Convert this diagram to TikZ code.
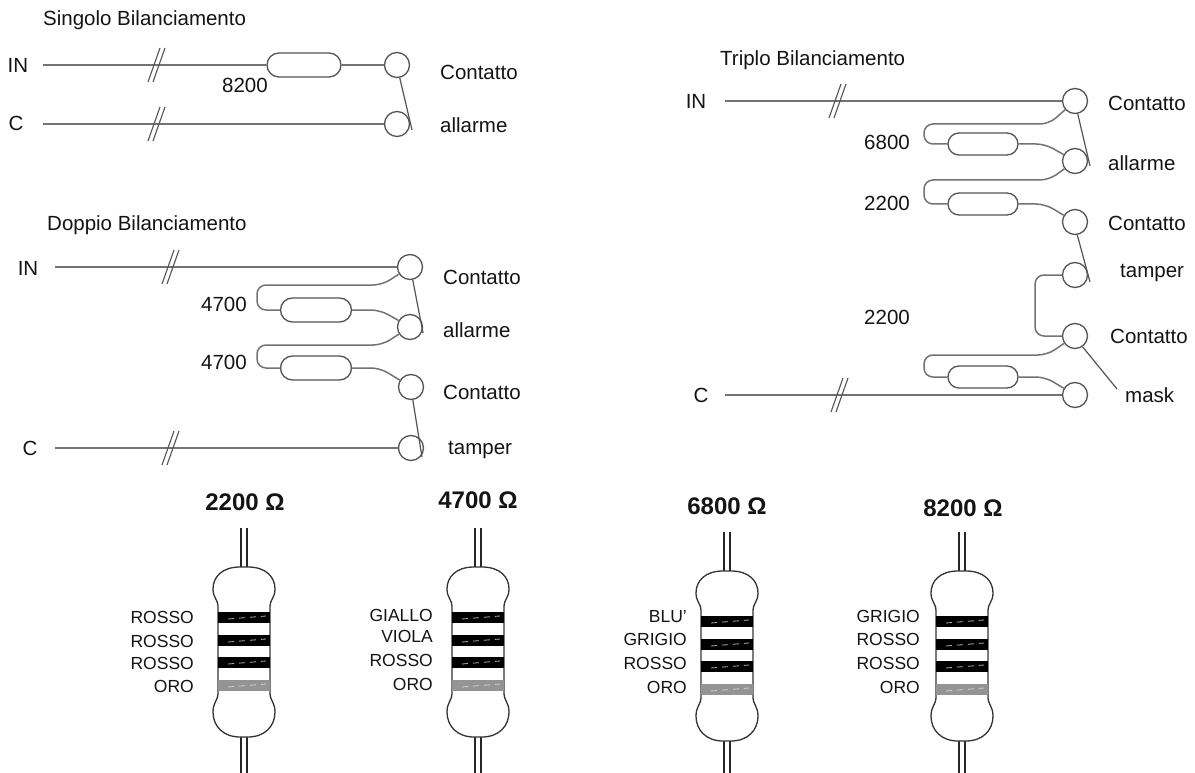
\documentclass[tikz,border=0pt]{standalone}
\usepackage{fontspec}
\setmainfont{Liberation Sans}
\usetikzlibrary{shapes.misc}
\definecolor{wirecol}{gray}{0.45}
\definecolor{rimcol}{gray}{0.33}
\definecolor{goldband}{gray}{0.58}
\definecolor{inkcol}{gray}{0.08}

\begin{document}
\begin{tikzpicture}[x=1pt,y=-1pt,
  wire/.style={draw=wirecol,line width=1.5pt,rounded corners=9pt},
  swline/.style={draw=rimcol,line width=1.2pt},
  term/.style={circle,draw=rimcol,line width=1.3pt,fill=white,minimum size=25pt,inner sep=0pt},
  resbody/.style={rounded rectangle,draw=rimcol,line width=1.3pt,fill=white,
                  minimum width=72pt,minimum height=24pt,inner sep=0pt},
  txt/.style={font=\fontsize{20.5}{24}\selectfont,text=inkcol,inner sep=0pt},
  lbl/.style={txt,anchor=west},
  title/.style={txt,anchor=west},
  ohm/.style={font=\bfseries\fontsize{24}{28}\selectfont,text=inkcol,inner sep=0pt},
  band/.style={font=\fontsize{17.5}{20}\selectfont,text=inkcol,inner sep=0pt,anchor=east},
  breakmark/.pic={\draw[draw=rimcol,line width=1.1pt] (-9,17) -- (3,-17) (-4,17) -- (8,-17);},
  outline/.style={draw=black!80,line width=1.3pt,fill=white},
  leadwire/.style={draw=black!85,line width=1.2pt}
]
\useasboundingbox (0,0) rectangle (1195,773);
\fill[white] (0,0) rectangle (1195,773);

% ---------- Singolo Bilanciamento ----------
\node[title] (stitle) at (43,20) {Singolo Bilanciamento};
\node[txt] (sin) at (18,65) {IN};
\node[txt] (sc) at (16,123) {C};
\coordinate (sinA) at (43,65);
\coordinate (scA) at (43,124);
\node[term] (s1) at (397,65) {};
\node[term] (s2) at (397,124) {};
\node[resbody,minimum width=74pt] (sr) at (304,65) {};
\draw[wire] (sinA) -- (sr.west);
\draw[wire] (sr.east) -- (s1);
\draw[wire] (scA) -- (s2);
\pic at (157,65) {breakmark};
\pic at (157,124) {breakmark};
\coordinate (sw1) at (412,130);
\draw[swline] (s1.-78) -- (sw1);
\node[txt] (s8200) at (245,85) {8200};
\node[lbl] (scont) at (440,72) {Contatto};
\node[lbl] (sall) at (440,125) {allarme};

% ---------- Doppio Bilanciamento ----------
\node[title] (dtitle) at (47,225) {Doppio Bilanciamento};
\node[txt] (din) at (28,268) {IN};
\node[txt] (dc) at (30,448) {C};
\coordinate (dinA) at (55,267);
\coordinate (dcA) at (55,448);
\node[term] (d1) at (410,267) {};
\node[term] (d2) at (410,327) {};
\node[term] (d3) at (411,387) {};
\node[term] (d4) at (411,448) {};
\node[resbody,minimum width=71pt] (dr1) at (316,310) {};
\node[resbody,minimum width=71pt] (dr2) at (316,368) {};
\draw[wire] (dinA) -- (d1);
\draw[wire] (dcA) -- (d4);
\pic at (171,267) {breakmark};
\pic at (171,448) {breakmark};
\draw[wire] (d1) -- (382,285) -- (257,285) -- (257,310) -- (dr1.west);
\draw[wire] (dr1.east) -- (380,310) -- (d2);
\draw[wire] (d2) -- (382,345) -- (257,345) -- (257,368) -- (dr2.west);
\draw[wire] (dr2.east) -- (380,368) -- (d3);
\coordinate (sw2) at (423,333);
\coordinate (sw3) at (422,457);
\draw[swline] (d1.-78) -- (sw2);
\draw[swline] (d3.-82) -- (sw3);
\node[txt] (d4700a) at (224,304) {4700};
\node[txt] (d4700b) at (224,362) {4700};
\node[lbl] (dcont1) at (443,277) {Contatto};
\node[lbl] (dall) at (443,330) {allarme};
\node[lbl] (dcont2) at (443,392) {Contatto};
\node[lbl] (dtamp) at (448,450) {tamper};

% ---------- Triplo Bilanciamento ----------
\node[title] (ttitle) at (720,60) {Triplo Bilanciamento};
\node[txt] (tin) at (696,101) {IN};
\node[txt] (tc) at (701,395) {C};
\coordinate (tinA) at (725,101);
\coordinate (tcA) at (725,395);
\node[term] (t1) at (1075,101) {};
\node[term] (t2) at (1075,161) {};
\node[term] (t3) at (1075,222) {};
\node[term] (t4) at (1075,275) {};
\node[term] (t5) at (1075,336) {};
\node[term] (t6) at (1075,395) {};
\node[resbody,minimum width=70pt,minimum height=22pt] (tr1) at (983,144) {};
\node[resbody,minimum width=70pt,minimum height=22pt] (tr2) at (983,204) {};
\node[resbody,minimum width=70pt,minimum height=22pt] (tr3) at (983,377) {};
\draw[wire] (tinA) -- (t1);
\draw[wire] (tcA) -- (t6);
\pic at (838,101) {breakmark};
\pic at (840,395) {breakmark};
\draw[wire] (t1) -- (1049,124) -- (924,124) -- (924,144) -- (tr1.west);
\draw[wire] (tr1.east) -- (1045,144) -- (t2);
\draw[wire] (t2) -- (1049,180) -- (924,180) -- (924,204) -- (tr2.west);
\draw[wire] (tr2.east) -- (1045,204) -- (t3);
\draw[wire] (t4) -- (1035,275) -- (1035,336) -- (t5);
\draw[wire] (t5) -- (1047,355) -- (924,355) -- (924,377) -- (tr3.west);
\draw[wire] (tr3.east) -- (1045,377) -- (t6);
\coordinate (sw4) at (1090,166);
\coordinate (sw5) at (1090,282);
\coordinate (sw6) at (1117,389);
\draw[swline] (t1.-78) -- (sw4);
\draw[swline] (t3.-80) -- (sw5);
\draw[swline] (t5.-55) -- (sw6);
\node[txt] (t6800) at (887,142) {6800};
\node[txt] (t2200a) at (887,203) {2200};
\node[txt] (t2200b) at (887,317) {2200};
\node[lbl] (tcont1) at (1108,103) {Contatto};
\node[lbl] (tall) at (1108,163) {allarme};
\node[lbl] (tcont2) at (1108,223) {Contatto};
\node[lbl] (ttamp) at (1120,273) {tamper};
\node[lbl] (tcont3) at (1110,336) {Contatto};
\node[lbl] (tmask) at (1125,395) {mask};

% ---------- colour-coded resistors ----------
\foreach \cx/\dy in {244/0, 478/0, 727/4, 962/4}{
  \begin{scope}[shift={(\cx,\dy)}]
    \draw[leadwire] (-3,528) -- (-3,568) (3,528) -- (3,568);
    \draw[leadwire] (-3,736) -- (-3,780) (3,736) -- (3,780);
    \draw[outline] (-4,567) .. controls (-22,567) and (-31,577) .. (-31,589)
      .. controls (-31,598) and (-26,599) .. (-26,607) -- (-26,693)
      .. controls (-26,701) and (-31,702) .. (-31,712)
      .. controls (-31,726) and (-21,737) .. (-4,737) -- (4,737)
      .. controls (21,737) and (31,726) .. (31,712)
      .. controls (31,702) and (26,701) .. (26,693) -- (26,607)
      .. controls (26,599) and (31,598) .. (31,589)
      .. controls (31,577) and (22,567) .. (4,567) -- cycle;
    \foreach \by in {612,635,657}{
      \fill[black] (-26,\by) rectangle (26,\by+11);
      \draw[gray!60,line width=0.8pt,dash pattern=on 6pt off 5pt] (-16,\by+7) -- (22,\by+4);
    }
    \fill[goldband] (-26,680) rectangle (26,691);
    \draw[gray!35,line width=0.8pt,dash pattern=on 6pt off 5pt] (-16,687) -- (22,684);
  \end{scope}
}

\node[ohm] (h2200) at (245,502) {2200 Ω};
\node[ohm] (h4700) at (478,500) {4700 Ω};
\node[ohm] (h6800) at (727,506) {6800 Ω};
\node[ohm] (h8200) at (963,508) {8200 Ω};

\node[band] (a1) at (194,617) {ROSSO};
\node[band] (a2) at (194,641) {ROSSO};
\node[band] (a3) at (194,663) {ROSSO};
\node[band] (a4) at (194,686) {ORO};

\node[band] (b1) at (433,615) {GIALLO};
\node[band] (b2) at (433,636) {VIOLA};
\node[band] (b3) at (433,660) {ROSSO};
\node[band] (b4) at (433,684) {ORO};

\node[band] (c1) at (687,617) {BLU'};
\node[band] (c2) at (687,639) {GRIGIO};
\node[band] (c3) at (687,663) {ROSSO};
\node[band] (c4) at (687,687) {ORO};

\node[band] (e1) at (920,616) {GRIGIO};
\node[band] (e2) at (920,639) {ROSSO};
\node[band] (e3) at (920,663) {ROSSO};
\node[band] (e4) at (920,687) {ORO};
\end{tikzpicture}
\end{document}
